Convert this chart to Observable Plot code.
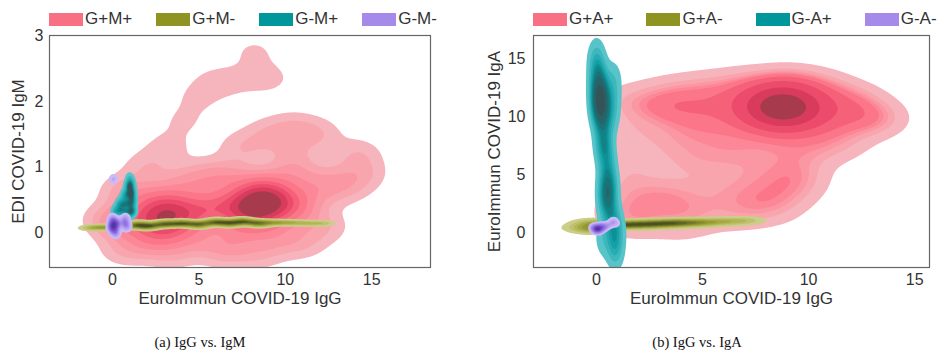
<!DOCTYPE html>
<html><head><meta charset="utf-8">
<script src="https://cdn.jsdelivr.net/npm/d3@7"></script>
<script src="https://cdn.jsdelivr.net/npm/@observablehq/plot@0.6"></script>
<style>
body{margin:0;background:#fff;}
#root{position:relative;width:937px;height:362px;overflow:hidden;font-family:"Liberation Sans",Arial,sans-serif;background:#fff;}
.legend{position:absolute;top:9px;height:20px;display:flex;align-items:center;font-size:17px;color:#333;white-space:nowrap;}
.item{display:flex;align-items:center;}
.sw{width:34px;height:13px;margin-right:2px;display:inline-block;}
.panel{position:absolute;top:0;}
.caption{position:absolute;top:334px;font-family:"Liberation Serif","Times New Roman",serif;font-size:14.5px;color:#111;transform:translateX(-50%);white-space:nowrap;}
</style></head><body><div id="root"></div>
<script>
// ---------- legend / labels ----------
const legendA = ["G+M+", "G+M-", "G-M+", "G-M-"];
const legendB = ["G+A+", "G+A-", "G-A+", "G-A-"];
const legendColors = ["#f87083", "#8e9321", "#00979b", "#a68ae9"];
const xLabelA = "EuroImmun COVID-19 IgG", yLabelA = "EDI COVID-19 IgM";
const xLabelB = "EuroImmun COVID-19 IgG", yLabelB = "EuroImmun COVID-19 IgA";
const captionA = "(a) IgG vs. IgM", captionB = "(b) IgG vs. IgA";
const xTicksA = [0, 5, 10, 15], yTicksA = [0, 1, 2, 3];
const xTicksB = [0, 5, 10, 15], yTicksB = [0, 5, 10, 15];

// ---------- level colours (light outer -> dark inner) ----------
const pinkLevels = ["#f6b4bc","#f9a5ae","#fb97a2","#fc8897","#fb7689","#f6617a","#ec4b6b","#d83b5c","#a83a4d"];
const oliveLevels = ["#cbcd88","#bec16d","#b1b554","#a3a840","#949933","#83892b","#707727","#5d6425","#4a5021"];
const tealLevels = ["#58c4c9","#3cb8bd","#25abb1","#15a0a5","#0e9196","#128287","#1b7378","#276469","#345459"];
const purpleLevels = ["#cbbaf6","#bda8f3","#ae96ef","#a084e9","#9272e2","#8460d8","#744fca","#6541b9","#5634a4"];

// ---------- sample points: [IgG, IgM/IgA, weight] ----------
// Panel (a)
const pinkA = [
 [2.2,0.25,1],[2.8,0.3,1],[3.3,0.25,1],[3.8,0.35,1],[3.0,0.5,1],[2.6,0.05,1],[3.5,0.05,1],
 [4.6,0.3,1],[5.4,0.35,1],[6.2,0.4,1],
 [7.2,0.4,1],[7.8,0.45,1],[8.3,0.4,1],[8.7,0.5,1],[9.1,0.4,1],[8.5,0.25,1],[9.5,0.5,1],[8.2,0.65,1],[9.0,0.7,1],[10.0,0.45,1],[7.8,0.2,1],
 [1.2,0.2,0.7],[0.5,0.15,0.7],[1.6,0.55,0.7],[4.2,0.75,0.7],[5.5,0.85,0.7],[6.8,0.85,0.7],[10.8,0.3,0.7],[11.5,0.6,0.7],[10.5,0.9,0.7],
 [2.0,-0.15,0.7],[5.0,-0.1,0.7],[7.0,-0.1,0.7],[9.5,-0.05,0.7],
 [-0.4,0.2,0.5],[0.6,0.65,0.5],[2.0,1.0,0.5],[3.2,1.3,0.4],[4.1,1.7,0.3],[4.9,2.05,0.3],[5.8,2.3,0.28],[6.9,2.3,0.25],[8.2,2.75,0.32],[8.5,2.35,0.22],[9.3,2.35,0.22],
 [7.5,1.3,0.5],[9.0,1.5,0.5],[10.5,1.6,0.5],[10.4,1.2,0.45],[11.9,1.5,0.5],[12.5,0.8,0.5],[13.5,0.7,0.5],[14.5,0.9,0.5],[14.2,1.2,0.5],[12.3,0.1,0.5],
 [11.0,-0.15,0.5],[0.6,-0.25,0.5],[3.5,-0.3,0.5],[6.5,-0.3,0.5],[8.5,-0.3,0.5]
];
const oliveA = [
 [-1.3,0.08],[-0.7,0.09],[-0.1,0.09],[0.5,0.1],[1.1,0.11],[1.6,0.12],[2.1,0.11],[2.6,0.13],[3.1,0.12],[3.6,0.14],
 [4.1,0.13],[4.6,0.15],[5.1,0.14],[5.6,0.16],[6.1,0.15],[6.6,0.17],[7.1,0.16],[7.6,0.17],[8.1,0.16],[8.6,0.17],
 [9.2,0.16],[9.8,0.16],[10.5,0.16],[11.3,0.15],[12.2,0.15],
 [2.0,0.08],[3.0,0.17],[4.0,0.18],[5.0,0.1],[6.0,0.2],[7.5,0.21],[8.5,0.12],[1.5,0.16],[6.8,0.12]
];
const tealA = [
 [0.15,0.33],[0.45,0.33],[0.75,0.32],[1.05,0.3],[1.2,0.35],
 [0.4,0.45],[0.7,0.45],[1.0,0.45],[1.2,0.5],
 [0.7,0.58],[1.0,0.6],[1.15,0.62],
 [0.9,0.72],[1.1,0.74],[1.0,0.84,0.7]
];
const purpleA = [
 [0.0,0.12],[0.08,0.1],[0.05,0.16],[-0.05,0.08],[0.15,0.14],[0.1,0.05],[0.3,0.15],[0.7,0.15],[0.85,0.1],[0.75,0.22],[0.0,0.22],[0.2,0.0],[0.06,0.82,0.7]
];
// Panel (b)
const pinkB = [
 [8.3,10.8,2],[8.8,10.6,2],[9.3,10.9,2],[8.6,11.2,2],[9.0,10.2,2],[8.0,10.4,2],[9.6,10.6,2],[8.7,11.6,2],
 [6.8,11.2,1],[5.5,10.6,1],[4.2,10.4,1],[3.0,10.6,1],[1.5,11.3,1],[3.5,12.0,1],[5.2,12.4,1],[7.0,12.8,1],[9.0,13.0,1],[10.6,12.6,1],
 [11.2,11.0,1],[12.2,11.4,1],[12.5,9.9,1],[13.4,9.8,1],[10.8,9.4,1],
 [6.5,9.0,0.8],[1.3,8.5,0.8],[3.5,8.0,0.8],[5.0,8.5,0.8],[5.8,6.6,0.8],[4.3,6.0,0.8],[1.6,6.0,0.8],[7.2,7.2,0.8],[8.8,7.6,0.8],[10.2,7.4,0.8],
 [11.6,7.6,0.8],[9.3,5.6,0.8],[7.5,5.0,0.8],
 [3.0,3.0,0.6],[2.6,2.3,0.5],[3.6,3.5,0.6],[1.4,4.0,0.8],[4.6,2.0,0.8],[5.8,3.8,0.8],[7.4,3.0,0.8],[9.0,3.4,0.8],[6.5,1.5,0.8],
 [1.7,0.8,0.8],[4.0,0.6,0.8],[8.3,2.0,0.8],[9.6,4.5,0.8],[1.2,1.8,0.8]
];
const oliveB = [
 [-0.8,0.4,0.6],[-0.5,0.75,0.6],[-0.3,0.2,0.6],[-0.1,0.9,0.6],[0.1,0.35,0.6],[0.5,0.6,0.8],[1.0,0.7,1],[1.5,0.65,1],[2.0,0.75,1],[2.5,0.7,1],
 [3.0,0.8,1],[3.5,0.8,1],[4.0,0.85,1],[4.6,0.85,0.9],[5.2,0.9,0.8],[5.9,0.95,0.7],[6.6,1.0,0.6],[7.3,1.05,0.5]
];
const tealB = [
 [0.0,15.2,1],[0.05,13.8,1.5],[0.15,12.6,1.5],[0.2,11.6,1.5],[0.15,10.6,1.5],[0.25,9.8,1.5],[0.2,11.0,1.5],[0.1,12.0,1.5],
 [0.8,13.2,0.8],[0.75,11.5,0.8],[0.7,10.0,0.8],[0.35,8.2,1],[0.45,6.8,1],[0.55,5.5,1],[0.45,4.3,1],[0.5,3.3,1.2],[0.45,2.6,1.2],
 [0.7,1.8,1],[0.8,0.6,1],[0.85,-0.8,1],[0.9,-1.8,0.8],[0.3,7.5,1],[0.65,4.0,1],[0.3,-0.5,0.7],[1.0,0.2,0.6]
];
const purpleB = [
 [0.0,0.35,1],[0.1,0.3,1],[-0.1,0.45,1],[0.2,0.5,1],[0.05,0.2,1],[0.35,0.5,1],[0.6,0.7,0.5],[0.8,1.05,0.5],[0.9,0.75,0.4]
];

// ---------- kernel density (per-group bandwidths, like seaborn's kdeplot) ----------
function kde(pts, bx, by) {
  return (x, y) => {
    let s = 0;
    for (const p of pts) {
      const dx = (x - p[0]) / bx, dy = (y - p[1]) / by;
      const q = dx * dx + dy * dy;
      if (q < 50) s += (p[2] ?? 1) * Math.exp(-0.5 * q);
    }
    return s;
  };
}
// iso-proportion levels (seaborn default: levels=10, thresh=0.05)
function isoLevels(f, pts, bx, by, n = 9, thresh = 0.05) {
  const x0 = d3.min(pts, p => p[0]) - 4 * bx, x1 = d3.max(pts, p => p[0]) + 4 * bx;
  const y0 = d3.min(pts, p => p[1]) - 4 * by, y1 = d3.max(pts, p => p[1]) + 4 * by;
  const N = 220, M = 220, vals = [];
  for (let i = 0; i < N; i++) for (let j = 0; j < M; j++)
    vals.push(f(x0 + (i + 0.5) / N * (x1 - x0), y0 + (j + 0.5) / M * (y1 - y0)));
  vals.sort((a, b) => b - a);
  const total = d3.sum(vals);
  const cum = Array.from(d3.cumsum(vals), v => v / total);
  const out = [];
  for (let k = 0; k < n; k++) {
    const p = thresh + k * (1 - thresh) / n;
    const idx = Math.min(d3.bisectLeft(cum, 1 - p), vals.length - 1);
    out.push(vals[idx]);
  }
  return out;
}

const fmt = d3.format("~g");
function panel(cfg) {
  const [xa, xb] = cfg.xDomain, [ya, yb] = cfg.yDomain;
  const cdomain = [], crange = [], marks = [];
  for (const g of cfg.groups) {
    const f = kde(g.pts, g.bx, g.by);
    const lv = isoLevels(f, g.pts, g.bx, g.by);
    lv.forEach((t, i) => { cdomain.push(t); crange.push(g.colors[i]); });
    marks.push(Plot.contour({x1: xa, x2: xb, y1: ya, y2: yb, value: f, thresholds: lv, fill: "value", pixelSize: 1}));
  }
  marks.push(Plot.frame({stroke: "#666", strokeWidth: 1.2}));
  marks.push(Plot.text([cfg.xLabel], {text: d => d, frameAnchor: "bottom", dy: 36, fontSize: 17, fill: "#333"}));
  marks.push(Plot.text([cfg.yLabel], {text: d => d, frameAnchor: "left", textAnchor: "middle", dx: cfg.yLabelDx, rotate: -90, fontSize: 17, fill: "#333"}));
  return Plot.plot({
    width: cfg.width, height: 320,
    marginLeft: cfg.marginLeft, marginRight: cfg.marginRight, marginTop: 35, marginBottom: 53,
    x: {domain: cfg.xDomain, ticks: cfg.xTicks, tickSize: 0, tickPadding: 6, tickFormat: fmt, label: null},
    y: {domain: cfg.yDomain, ticks: cfg.yTicks, tickSize: 0, tickPadding: cfg.yPad, tickFormat: fmt, label: null},
    color: {type: "ordinal", domain: cdomain, range: crange},
    style: {fontSize: "16px", fontFamily: "'Liberation Sans', Arial, sans-serif", color: "#333", background: "transparent", overflow: "visible"},
    marks
  });
}

const root = document.getElementById("root");
function place(el, left) { el.classList.add("panel"); el.style.left = left + "px"; root.appendChild(el); }

place(panel({
  width: 468, marginLeft: 49, marginRight: 38,
  xDomain: [-3.64, 18.4], yDomain: [-0.52, 3], xTicks: xTicksA, yTicks: yTicksA, yPad: 6,
  xLabel: xLabelA, yLabel: yLabelA, yLabelDx: -31,
  groups: [
    {pts: pinkA, bx: 1.0, by: 0.18, colors: pinkLevels},
    {pts: oliveA, bx: 0.45, by: 0.032, colors: oliveLevels},
    {pts: tealA, bx: 0.17, by: 0.06, colors: tealLevels},
    {pts: purpleA, bx: 0.17, by: 0.05, colors: purpleLevels}
  ]
}), 0);

place(panel({
  width: 469, marginLeft: 65, marginRight: 8,
  xDomain: [-2.97, 15.7], yDomain: [-3, 17], xTicks: xTicksB, yTicks: yTicksB, yPad: 8,
  xLabel: xLabelB, yLabel: yLabelB, yLabelDx: -39,
  groups: [
    {pts: pinkB, bx: 1.1, by: 1.2, colors: pinkLevels},
    {pts: oliveB, bx: 0.55, by: 0.25, colors: oliveLevels},
    {pts: tealB, bx: 0.27, by: 1.1, colors: tealLevels},
    {pts: purpleB, bx: 0.15, by: 0.22, colors: purpleLevels}
  ]
}), 468);

function legend(labels, left, gap) {
  const div = document.createElement("div");
  div.className = "legend";
  div.style.left = left + "px";
  div.style.gap = gap + "px";
  labels.forEach((t, i) => {
    const it = document.createElement("div");
    it.className = "item";
    const sw = document.createElement("span");
    sw.className = "sw";
    sw.style.background = legendColors[i];
    it.appendChild(sw);
    it.appendChild(document.createTextNode(t));
    div.appendChild(it);
  });
  root.appendChild(div);
}
legend(legendA, 49, 24);
legend(legendB, 533, 33);

function caption(t, cx) {
  const d = document.createElement("div");
  d.className = "caption";
  d.style.left = cx + "px";
  d.textContent = t;
  root.appendChild(d);
}
caption(captionA, 200);
caption(captionB, 697);
</script></body></html>
